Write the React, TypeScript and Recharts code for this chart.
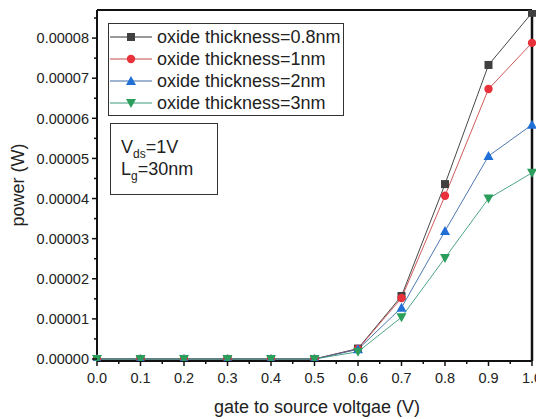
import { LineChart, Line, XAxis, YAxis, Legend, ReferenceLine } from "recharts"

const voltage = [0, 0.1, 0.2, 0.3, 0.4, 0.5, 0.6, 0.7, 0.8, 0.9, 1.0]
const power08 = [0, 0, 0, 0, 0, 0, 0.0000026, 0.0000157, 0.0000436, 0.0000733, 0.0000863]
const power1 = [0, 0, 0, 0, 0, 0, 0.0000025, 0.0000152, 0.0000407, 0.0000673, 0.0000788]
const power2 = [0, 0, 0, 0, 0, 0, 0.0000024, 0.0000128, 0.0000319, 0.0000506, 0.0000584]
const power3 = [0, 0, 0, 0, 0, 0, 0.0000018, 0.0000104, 0.0000252, 0.00004, 0.0000464]

const seriesNames = [
  "oxide thickness=0.8nm",
  "oxide thickness=1nm",
  "oxide thickness=2nm",
  "oxide thickness=3nm",
]

const xMajor = [0, 0.1, 0.2, 0.3, 0.4, 0.5, 0.6, 0.7, 0.8, 0.9, 1.0]
const xMinor = [0.05, 0.15, 0.25, 0.35, 0.45, 0.55, 0.65, 0.75, 0.85, 0.95]
const yMajor = [0, 0.00001, 0.00002, 0.00003, 0.00004, 0.00005, 0.00006, 0.00007, 0.00008]
const yMinor = [0.000005, 0.000015, 0.000025, 0.000035, 0.000045, 0.000055, 0.000065, 0.000075, 0.000085]

const Y_MIN = -0.0000005
const Y_MAX = 0.000087

const data = voltage.map((v, i) => ({
  v,
  t08: power08[i],
  t1: power1[i],
  t2: power2[i],
  t3: power3[i],
}))

type Shape = "square" | "circle" | "up" | "down"

const series: { key: string; name: string; color: string; line: string; shape: Shape }[] = [
  { key: "t08", name: seriesNames[0], color: "#404040", line: "#333333", shape: "square" },
  { key: "t1", name: seriesNames[1], color: "#e8313a", line: "#c8484c", shape: "circle" },
  { key: "t2", name: seriesNames[2], color: "#1f6fd6", line: "#3a68a6", shape: "up" },
  { key: "t3", name: seriesNames[3], color: "#2b9e5c", line: "#3a9a7a", shape: "down" },
]

const FONT = "Arial, 'Liberation Sans', sans-serif"

function Marker({ cx, cy, shape, color }: { cx: number; cy: number; shape: Shape; color: string }) {
  if (cx == null || cy == null) return null
  if (shape === "square") return <rect x={cx - 4} y={cy - 4} width={8} height={8} fill={color} />
  if (shape === "circle") return <circle cx={cx} cy={cy} r={4.2} fill={color} />
  if (shape === "up")
    return <polygon points={`${cx},${cy - 5} ${cx + 5},${cy + 4} ${cx - 5},${cy + 4}`} fill={color} />
  return <polygon points={`${cx},${cy + 5} ${cx + 5},${cy - 4} ${cx - 5},${cy - 4}`} fill={color} />
}

const YTick = ({ x, y, payload }: any) => {
  const major = yMajor.includes(payload.value)
  return (
    <g>
      <line x1={x - (major ? 5 : 3)} x2={x} y1={y} y2={y} stroke="#111" strokeWidth={1.5} />
      {major && (
        <text x={x - 8} y={y} dy="0.36em" textAnchor="end" fontSize={14.5} fill="#222" fontFamily={FONT}>
          {payload.value.toFixed(5)}
        </text>
      )}
    </g>
  )
}

const XTick = ({ x, y, payload }: any) => {
  const major = xMajor.includes(payload.value)
  return (
    <g>
      <line x1={x} x2={x} y1={y} y2={y + (major ? 5 : 3)} stroke="#111" strokeWidth={1.5} />
      {major && (
        <text x={x} y={y + 22} textAnchor="middle" fontSize={14.5} fill="#222" fontFamily={FONT}>
          {payload.value.toFixed(1)}
        </text>
      )}
    </g>
  )
}

function LegendBox() {
  return (
    <div style={{ width: 236, height: 93, border: "1px solid #333", boxSizing: "border-box", background: "#fff" }}>
      <svg width={234} height={91}>
        {series.map((s, i) => {
          const y = 13 + i * 22
          return (
            <g key={s.key}>
              <line x1={1} x2={43} y1={y} y2={y} stroke={s.line} strokeWidth={1} />
              <Marker cx={22} cy={y} shape={s.shape} color={s.color} />
              <text x={48} y={y} dy="0.36em" fontSize={18} fill="#222" fontFamily={FONT}>
                {s.name}
              </text>
            </g>
          )
        })}
      </svg>
    </div>
  )
}

export default function App() {
  return (
    <div style={{ position: "absolute", left: 0, top: 0, width: 536, height: 419, background: "#fff", fontFamily: FONT, overflow: "hidden" }}>
      <LineChart width={536} height={419} data={data} margin={{ top: 10, right: 4, bottom: 0, left: 0 }}>
        <XAxis
          dataKey="v"
          type="number"
          domain={[0, 1]}
          ticks={[...xMajor, ...xMinor]}
          interval={0}
          height={58}
          tickSize={0}
          tickMargin={0}
          tickLine={false}
          tick={<XTick />}
          axisLine={{ stroke: "#111", strokeWidth: 2 }}
        />
        <YAxis
          type="number"
          domain={[Y_MIN, Y_MAX]}
          allowDataOverflow
          ticks={[...yMajor, ...yMinor]}
          interval={0}
          width={97}
          tickSize={0}
          tickMargin={0}
          tickLine={false}
          tick={<YTick />}
          axisLine={{ stroke: "#111", strokeWidth: 2 }}
        />
        <ReferenceLine y={Y_MAX} stroke="#111" strokeWidth={2} />
        <ReferenceLine x={1} stroke="#111" strokeWidth={2.5} />
        <Legend
          layout="vertical"
          align="center"
          verticalAlign="middle"
          wrapperStyle={{ left: 108, top: 23, width: 236, height: 93 }}
          content={() => <LegendBox />}
        />
        {series.map((s) => (
          <Line
            key={s.key}
            dataKey={s.key}
            name={s.name}
            stroke={s.line}
            strokeWidth={0.9}
            isAnimationActive={false}
            dot={(p: any) => <Marker key={`${s.key}-${p.index}`} cx={p.cx} cy={p.cy} shape={s.shape} color={s.color} />}
            activeDot={false}
          />
        ))}
      </LineChart>
      <div
        style={{
          position: "absolute",
          left: 110,
          top: 123,
          width: 108,
          height: 72,
          border: "1px solid #333",
          boxSizing: "border-box",
          background: "#fff",
        }}
      >
        <svg width={106} height={70}>
          <text x={10} y={29} fontSize={18} fill="#222" fontFamily={FONT}>
            V<tspan dy={5} fontSize={12}>ds</tspan>
            <tspan dy={-5}>=1V</tspan>
          </text>
          <text x={10} y={51} fontSize={18} fill="#222" fontFamily={FONT}>
            L<tspan dy={5} fontSize={12}>g</tspan>
            <tspan dy={-5}>=30nm</tspan>
          </text>
        </svg>
      </div>
      <div
        style={{
          position: "absolute",
          left: 214,
          top: 396,
          width: 200,
          textAlign: "center",
          fontSize: 18,
          lineHeight: "22px",
          color: "#222",
          whiteSpace: "nowrap",
        }}
      >
        gate to source voltgae (V)
      </div>
      <div
        style={{
          position: "absolute",
          left: 18 - 60,
          top: 185 - 11,
          width: 120,
          textAlign: "center",
          fontSize: 18,
          lineHeight: "22px",
          color: "#222",
          transform: "rotate(-90deg)",
          whiteSpace: "nowrap",
        }}
      >
        power (W)
      </div>
    </div>
  )
}
